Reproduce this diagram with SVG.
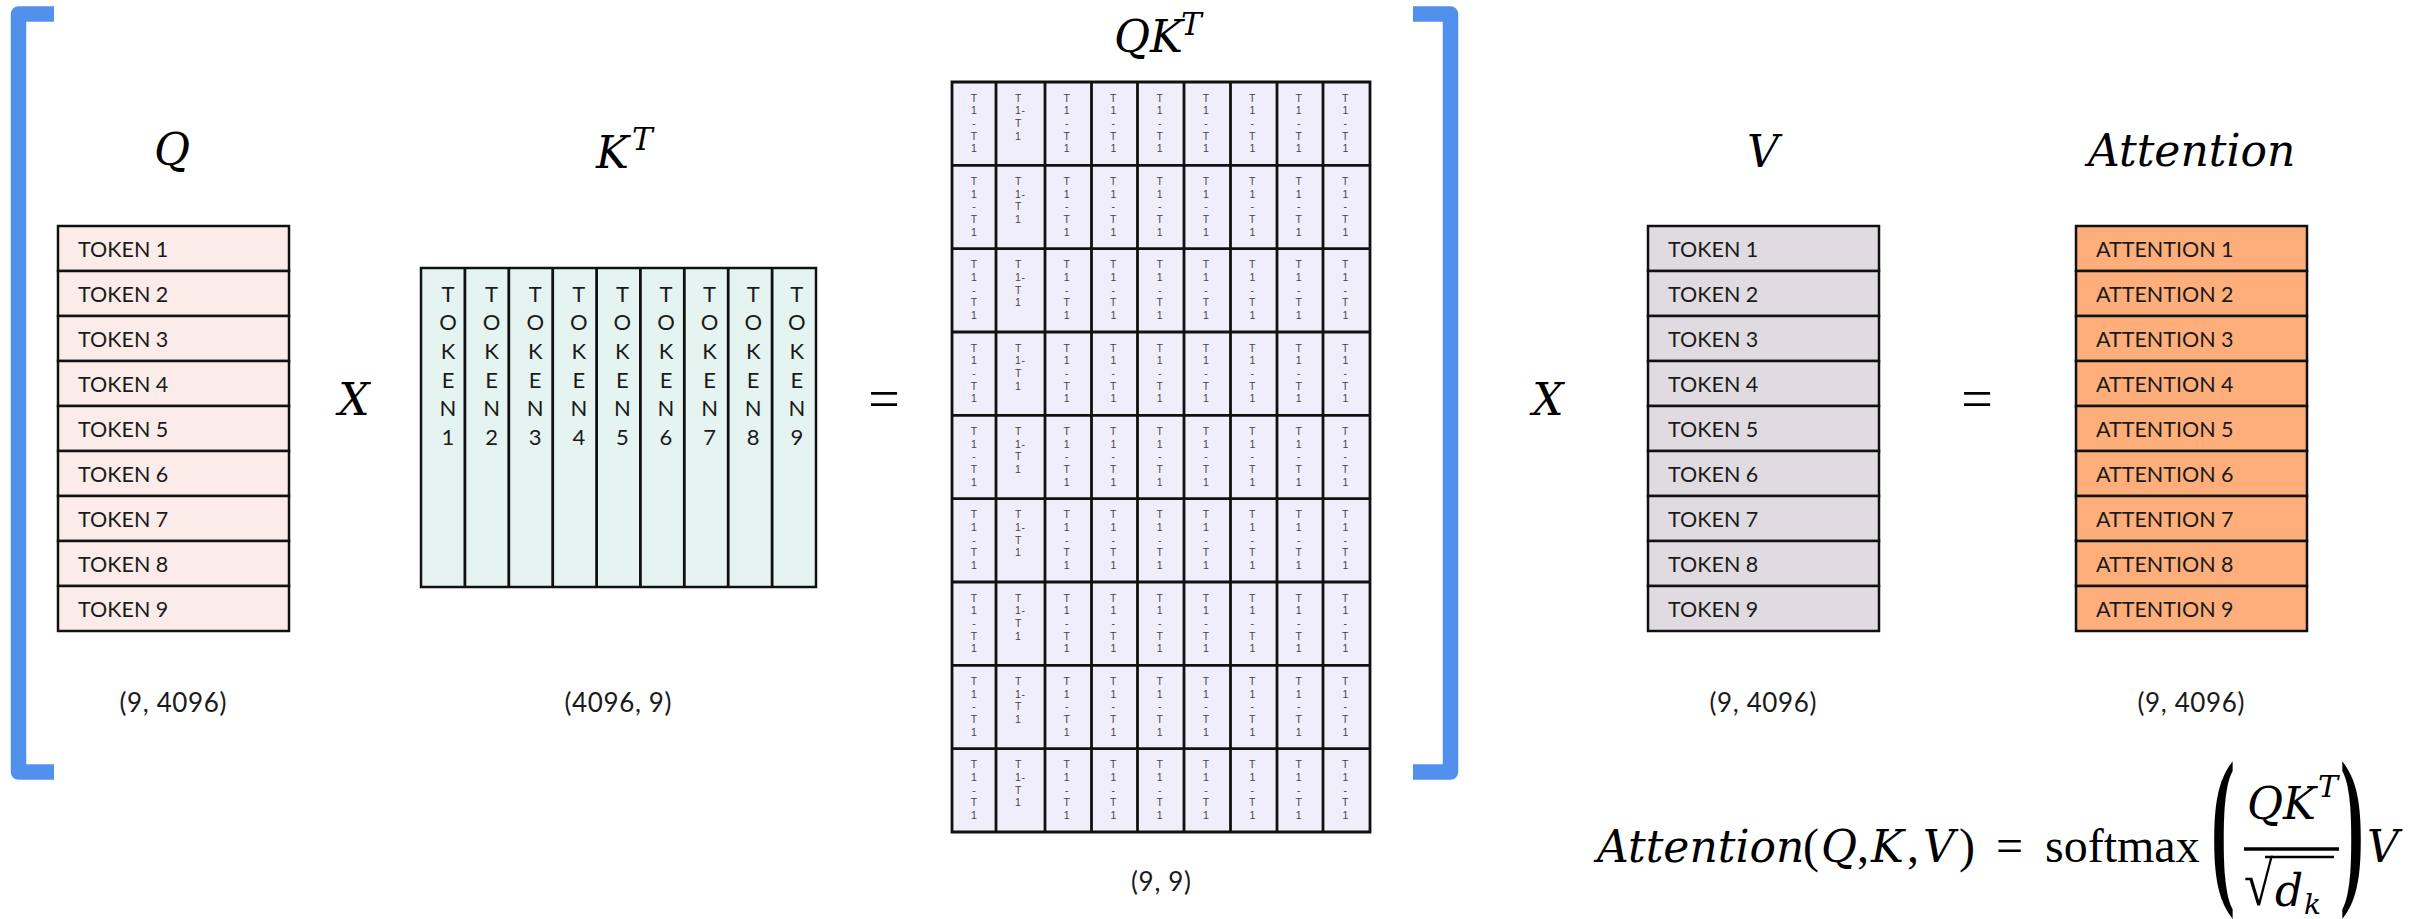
<svg xmlns="http://www.w3.org/2000/svg" width="2432" height="919" viewBox="0 0 2432 919">
<style>
.bg{fill:#ffffff}
.br{fill:none;stroke:#5191ED;stroke-width:15.5;stroke-linejoin:round;stroke-linecap:butt}
.row{stroke:#111;stroke-width:2.5}
.q{fill:#FBECEA}
.k{fill:#E6F4F1}
.v{fill:#DFDBE0}
.a{fill:#FDAE7A}
.p{fill:#F1EEFC}
.grid{fill:none;stroke:#111;stroke-width:2.8}
.tok{font-family:Lato,"Liberation Sans",sans-serif;font-size:21.5px;fill:#1a1a1a}
.vt{font-family:Lato,"Liberation Sans",sans-serif;font-size:22px;fill:#1a1a1a;text-anchor:middle}
.dim{font-family:Lato,"Liberation Sans",sans-serif;font-size:26px;fill:#1a1a1a;text-anchor:middle}
.cell{font-family:"Liberation Sans",Arial,sans-serif;font-size:10.5px;fill:#444;text-anchor:middle}
.cell2{font-family:"Liberation Sans",Arial,sans-serif;font-size:10.5px;fill:#444;text-anchor:start}
.m{font-family:"DejaVu Serif","Liberation Serif",serif;font-style:italic;font-size:44px;fill:#000}
.u{font-family:"Liberation Serif","Times New Roman",serif;font-style:normal;font-size:48px;fill:#000}
.big{font-family:"Liberation Serif","Times New Roman",serif;font-style:normal;font-weight:bold;font-size:72px;fill:#000}
.op{font-family:"Liberation Serif","Times New Roman",serif;font-size:56px;fill:#000;text-anchor:middle}
</style>
<rect class="bg" x="0" y="0" width="2432" height="919"/>

<g id="bracket-left"><path class="br" d="M54 14 L18.5 14 L18.5 772 L54 772"/></g>
<g id="bracket-right"><path class="br" d="M1413 14 L1450.5 14 L1450.5 772 L1413 772"/></g>

<g id="label-Q"><text class="m" x="172" y="165" text-anchor="middle">Q</text></g>
<g id="label-KT"><text class="m" x="596" y="168">K<tspan x="632" y="150" font-size="31">T</tspan></text></g>
<g id="label-QKT"><text class="m" x="1114" y="52">QK<tspan x="1181" y="35" font-size="31">T</tspan></text></g>
<g id="label-V"><text class="m" x="1763" y="167" text-anchor="middle">V</text></g>
<g id="label-Attention"><text class="m" x="2088" y="166" font-size="43.5">Attention</text></g>

<g id="matrix-Q">
<rect class="row q" x="58" y="226" width="231" height="45"/>
<rect class="row q" x="58" y="271" width="231" height="45"/>
<rect class="row q" x="58" y="316" width="231" height="45"/>
<rect class="row q" x="58" y="361" width="231" height="45"/>
<rect class="row q" x="58" y="406" width="231" height="45"/>
<rect class="row q" x="58" y="451" width="231" height="45"/>
<rect class="row q" x="58" y="496" width="231" height="45"/>
<rect class="row q" x="58" y="541" width="231" height="45"/>
<rect class="row q" x="58" y="586" width="231" height="45"/>
<text class="tok" x="78" y="256.7">TOKEN 1</text>
<text class="tok" x="78" y="301.7">TOKEN 2</text>
<text class="tok" x="78" y="346.7">TOKEN 3</text>
<text class="tok" x="78" y="391.7">TOKEN 4</text>
<text class="tok" x="78" y="436.7">TOKEN 5</text>
<text class="tok" x="78" y="481.7">TOKEN 6</text>
<text class="tok" x="78" y="526.7">TOKEN 7</text>
<text class="tok" x="78" y="571.7">TOKEN 8</text>
<text class="tok" x="78" y="616.7">TOKEN 9</text>
<text class="dim" x="173" y="712" textLength="107" lengthAdjust="spacing">(9, 4096)</text>
</g>

<g id="matrix-KT">
<rect class="row k" x="421" y="268" width="395" height="319"/>
<path class="grid" d="M464.9 268V587M508.8 268V587M552.7 268V587M596.6 268V587M640.4 268V587M684.3 268V587M728.2 268V587M772.1 268V587"/>
<text class="vt" x="448 448 448 448 448 448 448" y="301.7 330.3 359 387.7 416.3 416.3 445">TOKEN 1</text>
<text class="vt" x="491.6 491.6 491.6 491.6 491.6 491.6 491.6" y="301.7 330.3 359 387.7 416.3 416.3 445">TOKEN 2</text>
<text class="vt" x="535.2 535.2 535.2 535.2 535.2 535.2 535.2" y="301.7 330.3 359 387.7 416.3 416.3 445">TOKEN 3</text>
<text class="vt" x="578.8 578.8 578.8 578.8 578.8 578.8 578.8" y="301.7 330.3 359 387.7 416.3 416.3 445">TOKEN 4</text>
<text class="vt" x="622.4 622.4 622.4 622.4 622.4 622.4 622.4" y="301.7 330.3 359 387.7 416.3 416.3 445">TOKEN 5</text>
<text class="vt" x="666 666 666 666 666 666 666" y="301.7 330.3 359 387.7 416.3 416.3 445">TOKEN 6</text>
<text class="vt" x="709.6 709.6 709.6 709.6 709.6 709.6 709.6" y="301.7 330.3 359 387.7 416.3 416.3 445">TOKEN 7</text>
<text class="vt" x="753.2 753.2 753.2 753.2 753.2 753.2 753.2" y="301.7 330.3 359 387.7 416.3 416.3 445">TOKEN 8</text>
<text class="vt" x="796.8 796.8 796.8 796.8 796.8 796.8 796.8" y="301.7 330.3 359 387.7 416.3 416.3 445">TOKEN 9</text>
<text class="dim" x="618" y="712" textLength="107" lengthAdjust="spacing">(4096, 9)</text>
</g>

<g id="matrix-QKT">
<rect class="p" x="952" y="82" width="418" height="750"/>
<path class="grid" d="M952 82H1370V832H952ZM996 82V832M1045 82V832M1091.5 82V832M1137.5 82V832M1184 82V832M1230.5 82V832M1277 82V832M1323 82V832M952 165.3H1370M952 248.7H1370M952 332H1370M952 415.3H1370M952 498.7H1370M952 582H1370M952 665.3H1370M952 748.7H1370"/>
<g id="qkt-row1">
<text class="cell" x="974 974 974 974 974" y="101.7 114.3 127 139.7 152.3">T1-T1</text>
<text class="cell2" x="1015 1015 1021.5 1015 1015" y="101.7 114.3 114.3 127 139.7">T1-T1</text>
<text class="cell" x="1066.7 1066.7 1066.7 1066.7 1066.7" y="101.7 114.3 127 139.7 152.3">T1-T1</text>
<text class="cell" x="1113.3 1113.3 1113.3 1113.3 1113.3" y="101.7 114.3 127 139.7 152.3">T1-T1</text>
<text class="cell" x="1159.7 1159.7 1159.7 1159.7 1159.7" y="101.7 114.3 127 139.7 152.3">T1-T1</text>
<text class="cell" x="1206 1206 1206 1206 1206" y="101.7 114.3 127 139.7 152.3">T1-T1</text>
<text class="cell" x="1252.3 1252.3 1252.3 1252.3 1252.3" y="101.7 114.3 127 139.7 152.3">T1-T1</text>
<text class="cell" x="1298.7 1298.7 1298.7 1298.7 1298.7" y="101.7 114.3 127 139.7 152.3">T1-T1</text>
<text class="cell" x="1345.3 1345.3 1345.3 1345.3 1345.3" y="101.7 114.3 127 139.7 152.3">T1-T1</text>
</g>
<g id="qkt-row2">
<text class="cell" x="974 974 974 974 974" y="185 197.7 210.3 223 235.7">T1-T1</text>
<text class="cell2" x="1015 1015 1021.5 1015 1015" y="185 197.7 197.7 210.3 223">T1-T1</text>
<text class="cell" x="1066.7 1066.7 1066.7 1066.7 1066.7" y="185 197.7 210.3 223 235.7">T1-T1</text>
<text class="cell" x="1113.3 1113.3 1113.3 1113.3 1113.3" y="185 197.7 210.3 223 235.7">T1-T1</text>
<text class="cell" x="1159.7 1159.7 1159.7 1159.7 1159.7" y="185 197.7 210.3 223 235.7">T1-T1</text>
<text class="cell" x="1206 1206 1206 1206 1206" y="185 197.7 210.3 223 235.7">T1-T1</text>
<text class="cell" x="1252.3 1252.3 1252.3 1252.3 1252.3" y="185 197.7 210.3 223 235.7">T1-T1</text>
<text class="cell" x="1298.7 1298.7 1298.7 1298.7 1298.7" y="185 197.7 210.3 223 235.7">T1-T1</text>
<text class="cell" x="1345.3 1345.3 1345.3 1345.3 1345.3" y="185 197.7 210.3 223 235.7">T1-T1</text>
</g>
<g id="qkt-row3">
<text class="cell" x="974 974 974 974 974" y="268.3 281 293.7 306.3 319">T1-T1</text>
<text class="cell2" x="1015 1015 1021.5 1015 1015" y="268.3 281 281 293.7 306.3">T1-T1</text>
<text class="cell" x="1066.7 1066.7 1066.7 1066.7 1066.7" y="268.3 281 293.7 306.3 319">T1-T1</text>
<text class="cell" x="1113.3 1113.3 1113.3 1113.3 1113.3" y="268.3 281 293.7 306.3 319">T1-T1</text>
<text class="cell" x="1159.7 1159.7 1159.7 1159.7 1159.7" y="268.3 281 293.7 306.3 319">T1-T1</text>
<text class="cell" x="1206 1206 1206 1206 1206" y="268.3 281 293.7 306.3 319">T1-T1</text>
<text class="cell" x="1252.3 1252.3 1252.3 1252.3 1252.3" y="268.3 281 293.7 306.3 319">T1-T1</text>
<text class="cell" x="1298.7 1298.7 1298.7 1298.7 1298.7" y="268.3 281 293.7 306.3 319">T1-T1</text>
<text class="cell" x="1345.3 1345.3 1345.3 1345.3 1345.3" y="268.3 281 293.7 306.3 319">T1-T1</text>
</g>
<g id="qkt-row4">
<text class="cell" x="974 974 974 974 974" y="351.7 364.3 377 389.7 402.3">T1-T1</text>
<text class="cell2" x="1015 1015 1021.5 1015 1015" y="351.7 364.3 364.3 377 389.7">T1-T1</text>
<text class="cell" x="1066.7 1066.7 1066.7 1066.7 1066.7" y="351.7 364.3 377 389.7 402.3">T1-T1</text>
<text class="cell" x="1113.3 1113.3 1113.3 1113.3 1113.3" y="351.7 364.3 377 389.7 402.3">T1-T1</text>
<text class="cell" x="1159.7 1159.7 1159.7 1159.7 1159.7" y="351.7 364.3 377 389.7 402.3">T1-T1</text>
<text class="cell" x="1206 1206 1206 1206 1206" y="351.7 364.3 377 389.7 402.3">T1-T1</text>
<text class="cell" x="1252.3 1252.3 1252.3 1252.3 1252.3" y="351.7 364.3 377 389.7 402.3">T1-T1</text>
<text class="cell" x="1298.7 1298.7 1298.7 1298.7 1298.7" y="351.7 364.3 377 389.7 402.3">T1-T1</text>
<text class="cell" x="1345.3 1345.3 1345.3 1345.3 1345.3" y="351.7 364.3 377 389.7 402.3">T1-T1</text>
</g>
<g id="qkt-row5">
<text class="cell" x="974 974 974 974 974" y="435 447.7 460.3 473 485.7">T1-T1</text>
<text class="cell2" x="1015 1015 1021.5 1015 1015" y="435 447.7 447.7 460.3 473">T1-T1</text>
<text class="cell" x="1066.7 1066.7 1066.7 1066.7 1066.7" y="435 447.7 460.3 473 485.7">T1-T1</text>
<text class="cell" x="1113.3 1113.3 1113.3 1113.3 1113.3" y="435 447.7 460.3 473 485.7">T1-T1</text>
<text class="cell" x="1159.7 1159.7 1159.7 1159.7 1159.7" y="435 447.7 460.3 473 485.7">T1-T1</text>
<text class="cell" x="1206 1206 1206 1206 1206" y="435 447.7 460.3 473 485.7">T1-T1</text>
<text class="cell" x="1252.3 1252.3 1252.3 1252.3 1252.3" y="435 447.7 460.3 473 485.7">T1-T1</text>
<text class="cell" x="1298.7 1298.7 1298.7 1298.7 1298.7" y="435 447.7 460.3 473 485.7">T1-T1</text>
<text class="cell" x="1345.3 1345.3 1345.3 1345.3 1345.3" y="435 447.7 460.3 473 485.7">T1-T1</text>
</g>
<g id="qkt-row6">
<text class="cell" x="974 974 974 974 974" y="518.3 531 543.7 556.3 569">T1-T1</text>
<text class="cell2" x="1015 1015 1021.5 1015 1015" y="518.3 531 531 543.7 556.3">T1-T1</text>
<text class="cell" x="1066.7 1066.7 1066.7 1066.7 1066.7" y="518.3 531 543.7 556.3 569">T1-T1</text>
<text class="cell" x="1113.3 1113.3 1113.3 1113.3 1113.3" y="518.3 531 543.7 556.3 569">T1-T1</text>
<text class="cell" x="1159.7 1159.7 1159.7 1159.7 1159.7" y="518.3 531 543.7 556.3 569">T1-T1</text>
<text class="cell" x="1206 1206 1206 1206 1206" y="518.3 531 543.7 556.3 569">T1-T1</text>
<text class="cell" x="1252.3 1252.3 1252.3 1252.3 1252.3" y="518.3 531 543.7 556.3 569">T1-T1</text>
<text class="cell" x="1298.7 1298.7 1298.7 1298.7 1298.7" y="518.3 531 543.7 556.3 569">T1-T1</text>
<text class="cell" x="1345.3 1345.3 1345.3 1345.3 1345.3" y="518.3 531 543.7 556.3 569">T1-T1</text>
</g>
<g id="qkt-row7">
<text class="cell" x="974 974 974 974 974" y="601.7 614.3 627 639.7 652.3">T1-T1</text>
<text class="cell2" x="1015 1015 1021.5 1015 1015" y="601.7 614.3 614.3 627 639.7">T1-T1</text>
<text class="cell" x="1066.7 1066.7 1066.7 1066.7 1066.7" y="601.7 614.3 627 639.7 652.3">T1-T1</text>
<text class="cell" x="1113.3 1113.3 1113.3 1113.3 1113.3" y="601.7 614.3 627 639.7 652.3">T1-T1</text>
<text class="cell" x="1159.7 1159.7 1159.7 1159.7 1159.7" y="601.7 614.3 627 639.7 652.3">T1-T1</text>
<text class="cell" x="1206 1206 1206 1206 1206" y="601.7 614.3 627 639.7 652.3">T1-T1</text>
<text class="cell" x="1252.3 1252.3 1252.3 1252.3 1252.3" y="601.7 614.3 627 639.7 652.3">T1-T1</text>
<text class="cell" x="1298.7 1298.7 1298.7 1298.7 1298.7" y="601.7 614.3 627 639.7 652.3">T1-T1</text>
<text class="cell" x="1345.3 1345.3 1345.3 1345.3 1345.3" y="601.7 614.3 627 639.7 652.3">T1-T1</text>
</g>
<g id="qkt-row8">
<text class="cell" x="974 974 974 974 974" y="685 697.7 710.3 723 735.7">T1-T1</text>
<text class="cell2" x="1015 1015 1021.5 1015 1015" y="685 697.7 697.7 710.3 723">T1-T1</text>
<text class="cell" x="1066.7 1066.7 1066.7 1066.7 1066.7" y="685 697.7 710.3 723 735.7">T1-T1</text>
<text class="cell" x="1113.3 1113.3 1113.3 1113.3 1113.3" y="685 697.7 710.3 723 735.7">T1-T1</text>
<text class="cell" x="1159.7 1159.7 1159.7 1159.7 1159.7" y="685 697.7 710.3 723 735.7">T1-T1</text>
<text class="cell" x="1206 1206 1206 1206 1206" y="685 697.7 710.3 723 735.7">T1-T1</text>
<text class="cell" x="1252.3 1252.3 1252.3 1252.3 1252.3" y="685 697.7 710.3 723 735.7">T1-T1</text>
<text class="cell" x="1298.7 1298.7 1298.7 1298.7 1298.7" y="685 697.7 710.3 723 735.7">T1-T1</text>
<text class="cell" x="1345.3 1345.3 1345.3 1345.3 1345.3" y="685 697.7 710.3 723 735.7">T1-T1</text>
</g>
<g id="qkt-row9">
<text class="cell" x="974 974 974 974 974" y="768.3 781 793.7 806.3 819">T1-T1</text>
<text class="cell2" x="1015 1015 1021.5 1015 1015" y="768.3 781 781 793.7 806.3">T1-T1</text>
<text class="cell" x="1066.7 1066.7 1066.7 1066.7 1066.7" y="768.3 781 793.7 806.3 819">T1-T1</text>
<text class="cell" x="1113.3 1113.3 1113.3 1113.3 1113.3" y="768.3 781 793.7 806.3 819">T1-T1</text>
<text class="cell" x="1159.7 1159.7 1159.7 1159.7 1159.7" y="768.3 781 793.7 806.3 819">T1-T1</text>
<text class="cell" x="1206 1206 1206 1206 1206" y="768.3 781 793.7 806.3 819">T1-T1</text>
<text class="cell" x="1252.3 1252.3 1252.3 1252.3 1252.3" y="768.3 781 793.7 806.3 819">T1-T1</text>
<text class="cell" x="1298.7 1298.7 1298.7 1298.7 1298.7" y="768.3 781 793.7 806.3 819">T1-T1</text>
<text class="cell" x="1345.3 1345.3 1345.3 1345.3 1345.3" y="768.3 781 793.7 806.3 819">T1-T1</text>
</g>
<text class="dim" x="1161" y="891" textLength="60" lengthAdjust="spacing">(9, 9)</text>
</g>

<g id="matrix-V">
<rect class="row v" x="1648" y="226" width="231" height="45"/>
<rect class="row v" x="1648" y="271" width="231" height="45"/>
<rect class="row v" x="1648" y="316" width="231" height="45"/>
<rect class="row v" x="1648" y="361" width="231" height="45"/>
<rect class="row v" x="1648" y="406" width="231" height="45"/>
<rect class="row v" x="1648" y="451" width="231" height="45"/>
<rect class="row v" x="1648" y="496" width="231" height="45"/>
<rect class="row v" x="1648" y="541" width="231" height="45"/>
<rect class="row v" x="1648" y="586" width="231" height="45"/>
<text class="tok" x="1668" y="256.7">TOKEN 1</text>
<text class="tok" x="1668" y="301.7">TOKEN 2</text>
<text class="tok" x="1668" y="346.7">TOKEN 3</text>
<text class="tok" x="1668" y="391.7">TOKEN 4</text>
<text class="tok" x="1668" y="436.7">TOKEN 5</text>
<text class="tok" x="1668" y="481.7">TOKEN 6</text>
<text class="tok" x="1668" y="526.7">TOKEN 7</text>
<text class="tok" x="1668" y="571.7">TOKEN 8</text>
<text class="tok" x="1668" y="616.7">TOKEN 9</text>
<text class="dim" x="1763" y="712" textLength="107" lengthAdjust="spacing">(9, 4096)</text>
</g>

<g id="matrix-Attention">
<rect class="row a" x="2076" y="226" width="231" height="45"/>
<rect class="row a" x="2076" y="271" width="231" height="45"/>
<rect class="row a" x="2076" y="316" width="231" height="45"/>
<rect class="row a" x="2076" y="361" width="231" height="45"/>
<rect class="row a" x="2076" y="406" width="231" height="45"/>
<rect class="row a" x="2076" y="451" width="231" height="45"/>
<rect class="row a" x="2076" y="496" width="231" height="45"/>
<rect class="row a" x="2076" y="541" width="231" height="45"/>
<rect class="row a" x="2076" y="586" width="231" height="45"/>
<text class="tok" x="2096" y="256.7">ATTENTION 1</text>
<text class="tok" x="2096" y="301.7">ATTENTION 2</text>
<text class="tok" x="2096" y="346.7">ATTENTION 3</text>
<text class="tok" x="2096" y="391.7">ATTENTION 4</text>
<text class="tok" x="2096" y="436.7">ATTENTION 5</text>
<text class="tok" x="2096" y="481.7">ATTENTION 6</text>
<text class="tok" x="2096" y="526.7">ATTENTION 7</text>
<text class="tok" x="2096" y="571.7">ATTENTION 8</text>
<text class="tok" x="2096" y="616.7">ATTENTION 9</text>
<text class="dim" x="2191" y="712" textLength="107" lengthAdjust="spacing">(9, 4096)</text>
</g>

<g id="connectors">
<text class="m" x="354" y="415" text-anchor="middle">X</text>
<text class="op" x="884" y="418">=</text>
<text class="m" x="1548" y="415" text-anchor="middle">X</text>
<text class="op" x="1977" y="418">=</text>
</g>

<g id="formula">
<text class="m" x="1597" y="862" font-size="43.5">Attention</text>
<text class="u" x="1803" y="862">(</text>
<text class="m" x="1821" y="862">Q</text>
<text class="u" x="1857" y="862">,</text>
<text class="m" x="1871" y="862">K</text>
<text class="u" x="1907" y="862">,</text>
<text class="m" x="1923" y="862">V</text>
<text class="u" x="1959" y="862">)</text>
<text class="u" x="1996" y="862">=</text>
<text class="u" x="2045" y="862">softmax</text>
<text class="big" transform="translate(2211 882) scale(1 2.42)">(</text>
<text class="m" x="2247" y="819">QK<tspan x="2318" y="797" font-size="30">T</tspan></text>
<line x1="2244" y1="849" x2="2339" y2="849" stroke="#000" stroke-width="3.5"/>
<text class="u" font-size="62" transform="translate(2244 905) scale(1.1 1.3)">√</text>
<line x1="2265" y1="857" x2="2334" y2="857" stroke="#000" stroke-width="2.5"/>
<text class="m" x="2275" y="906">d<tspan x="2304" y="914" font-size="28">k</tspan></text>
<text class="big" transform="translate(2340 882) scale(1 2.42)">)</text>
<text class="m" x="2367" y="862">V</text>
</g>
</svg>
